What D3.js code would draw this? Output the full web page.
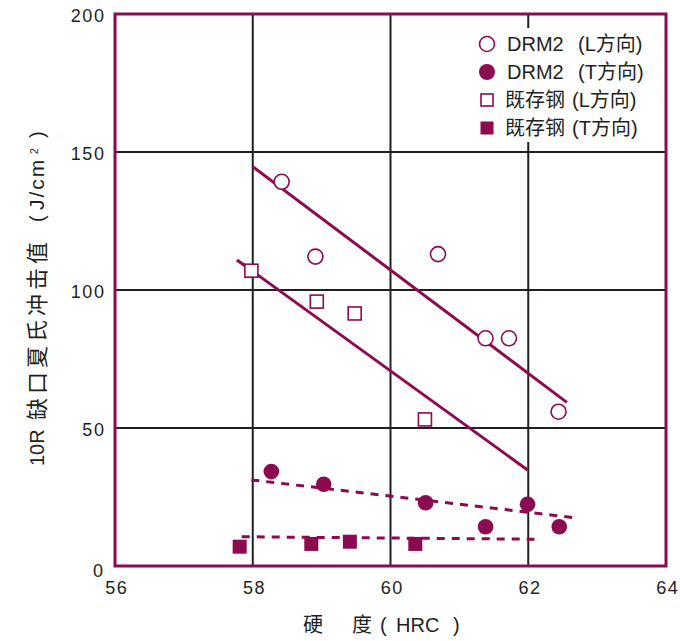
<!DOCTYPE html>
<html><head><meta charset="utf-8">
<script src="https://cdn.jsdelivr.net/npm/d3@7"></script>
<style>
body{margin:0;background:#fff;}
text{font-family:"Liberation Sans","Noto Sans CJK SC",Arial,sans-serif;fill:#231f20;}
</style></head>
<body><svg id="c" width="680" height="641"></svg>
<script>
// ---- data ----
const xTicks = [56, 58, 60, 62, 64];
const yTicks = [0, 50, 100, 150, 200];
const drmL_x = [58.42, 58.91, 60.69, 61.38, 61.72, 62.44];
const drmL_y = [139.2, 112.1, 113.0, 82.5, 82.5, 55.9];
const drmT_x = [58.27, 59.03, 60.51, 61.38, 61.99, 62.45];
const drmT_y = [34.2, 29.6, 22.9, 14.2, 22.4, 14.2];
const exL_x = [57.98, 58.93, 59.48, 60.50];
const exL_y = [107.0, 95.8, 91.5, 53.1];
const exT_x = [57.81, 58.85, 59.41, 60.36];
const exT_y = [7.0, 8.0, 8.8, 8.0];
// trend line end points [x0, x1], [y0, y1]
const fitDrmL_x = [58.0, 62.56], fitDrmL_y = [144.7, 59.3];
const fitExL_x = [57.77, 61.99], fitExL_y = [110.9, 34.8];
const fitDrmT_x = [57.98, 62.64], fitDrmT_y = [31.2, 17.6];
const fitExT_x = [57.84, 62.09], fitExT_y = [10.6, 9.7];
const legendNames = ["DRM2", "DRM2", "既存钢", "既存钢"];
const legendDirs = ["(L方向)", "(T方向)", "(L方向)", "(T方向)"];

// ---- chart ----
const C = "#8c0a50", G = "#231f20";
const svg = d3.select("#c");
const L = 115, R = 666, T = 14, B = 566;
const x = d3.scaleLinear().domain([56, 64]).range([L, R]);
const y = d3.scaleLinear().domain([0, 200]).range([B, T]);

// grid
svg.append("g").selectAll("line").data(xTicks.filter(d => d > 56 && d < 64)).join("line")
  .attr("x1", d => x(d)).attr("x2", d => x(d)).attr("y1", T).attr("y2", B)
  .attr("stroke", G).attr("stroke-width", 2);
svg.append("g").selectAll("line").data(yTicks.filter(d => d > 0 && d < 200)).join("line")
  .attr("y1", d => y(d)).attr("y2", d => y(d)).attr("x1", L).attr("x2", R)
  .attr("stroke", G).attr("stroke-width", 2);

// legend background
svg.append("rect").attr("x", 470).attr("y", 28).attr("width", 180).attr("height", 114).attr("fill", "#fff");

// frame
svg.append("rect").attr("x", L).attr("y", T).attr("width", R - L).attr("height", B - T)
  .attr("fill", "none").attr("stroke", C).attr("stroke-width", 3);

// tick labels
const ls = 1.6;
svg.append("g").selectAll("text").data(yTicks).join("text")
  .attr("x", d => (d === 0 ? 103 : 104) + ls).attr("y", d => y(d) + (d === 0 ? 5 : 2)).attr("dy", "0.35em")
  .attr("text-anchor", "end").attr("font-size", 18).attr("letter-spacing", ls).text(d => d);
svg.append("g").selectAll("text").data(xTicks).join("text")
  .attr("x", d => x(d) + ls / 2 + 1).attr("y", 588).attr("dy", "0.35em")
  .attr("text-anchor", "middle").attr("font-size", 18).attr("letter-spacing", ls).text(d => d);

// x axis title
const xt = svg.append("g");
[["硬", 303, 20], ["度", 352, 20], ["(", 380, 20], ["HRC", 396, 20], [")", 453, 20]].forEach(p => {
  xt.append("text").attr("x", p[1]).attr("y", 625).attr("dy", "0.35em").attr("font-size", p[2]).text(p[0]);
});
// y axis title (rotated)
const yt = svg.append("g").attr("transform", "translate(37,0) rotate(-90)");
[["10R", -466, 20, 0], ["缺口夏氏冲击值", -420, 22, 4], ["(", -222, 20, 0], ["J/cm", -210, 21, 2], [")", -138, 20, 0]].forEach(p => {
  yt.append("text").attr("x", p[1]).attr("y", 0).attr("dy", "0.35em").attr("font-size", p[2])
    .attr("letter-spacing", p[3]).text(p[0]);
});
yt.append("text").attr("x", -154).attr("y", -3).attr("dy", "0.35em").attr("font-size", 10).text("2");

// trend lines
function seg(xs, ys, dashed) {
  svg.append("line").attr("x1", x(xs[0])).attr("y1", y(ys[0])).attr("x2", x(xs[1])).attr("y2", y(ys[1]))
    .attr("stroke", C).attr("stroke-width", 3).attr("stroke-dasharray", dashed ? "8,7" : null);
}
seg(fitDrmL_x, fitDrmL_y, false);
seg(fitExL_x, fitExL_y, false);
seg(fitDrmT_x, fitDrmT_y, true);
seg(fitExT_x, fitExT_y, true);

// points
function circles(xs, ys, filled) {
  svg.append("g").selectAll("circle").data(xs.map((v, i) => [v, ys[i]])).join("circle")
    .attr("cx", d => x(d[0])).attr("cy", d => y(d[1])).attr("r", filled ? 7.8 : 7.5)
    .attr("fill", filled ? C : "#fff").attr("stroke", filled ? "none" : C).attr("stroke-width", 1.6);
}
function squares(xs, ys, filled) {
  const s = filled ? 14 : 13;
  svg.append("g").selectAll("rect").data(xs.map((v, i) => [v, ys[i]])).join("rect")
    .attr("x", d => x(d[0]) - s / 2).attr("y", d => y(d[1]) - s / 2).attr("width", s).attr("height", s)
    .attr("fill", filled ? C : "#fff").attr("stroke", filled ? "none" : C).attr("stroke-width", 1.6);
}
circles(drmL_x, drmL_y, false);
circles(drmT_x, drmT_y, true);
squares(exL_x, exL_y, false);
squares(exT_x, exT_y, true);

// legend
const ly = [44, 72, 100, 128];
legendNames.forEach((t, i) => {
  const cy = ly[i], cx = 487;
  if (i < 2) {
    svg.append("circle").attr("cx", cx).attr("cy", cy).attr("r", i === 0 ? 7.5 : 8)
      .attr("fill", i === 0 ? "#fff" : C).attr("stroke", i === 0 ? C : "none").attr("stroke-width", 1.6);
  } else {
    const s = i === 2 ? 12 : 13;
    svg.append("rect").attr("x", cx - s / 2).attr("y", cy - s / 2).attr("width", s).attr("height", s)
      .attr("fill", i === 2 ? "#fff" : C).attr("stroke", i === 2 ? C : "none").attr("stroke-width", 1.6);
  }
  svg.append("text").attr("x", i < 2 ? 507 : 505).attr("y", cy).attr("dy", "0.35em").attr("font-size", 20).text(t);
  svg.append("text").attr("x", i < 2 ? 578 : 572).attr("y", cy).attr("dy", "0.35em").attr("font-size", 20).text(legendDirs[i]);
});
</script></body></html>
